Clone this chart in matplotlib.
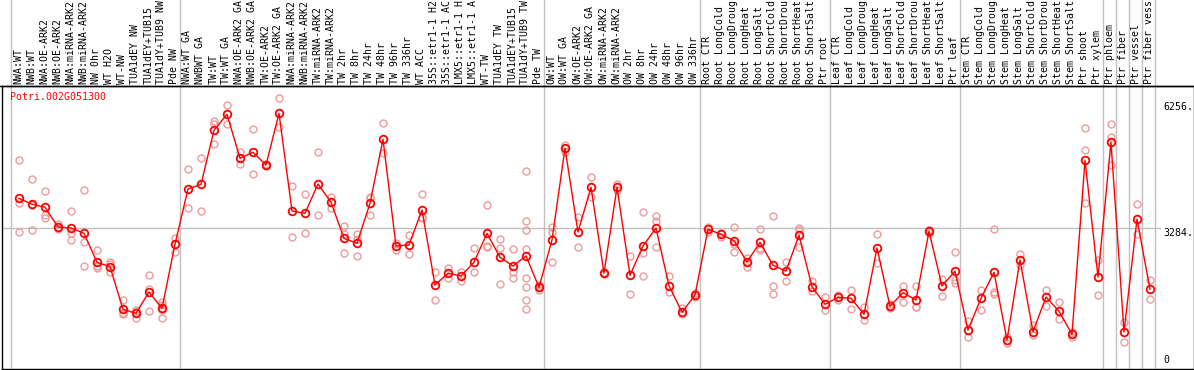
import matplotlib
matplotlib.use("Agg")
import matplotlib.pyplot as plt
from matplotlib.transforms import blended_transform_factory

# ---------------- data ----------------
gene_id = "Potri.002G051300"

sample_labels = [
    "NWA:WT", "NWB:WT", "NWA:OE-ARK2", "NWB:OE-ARK2", "NWA:miRNA-ARK2", "NWB:miRNA-ARK2",
    "NW 0hr", "WT H2O", "WT-NW", "TUA1dEY NW", "TUA1dEY+TUB15", "TUA1dY+TUB9 NW", "Pde NW",
    "NWA:WT GA", "NWBWT GA", "TW:WT", "TW:WT GA", "NWA:OE-ARK2 GA", "NWB:OE-ARK2 GA",
    "TW:OE-ARK2", "TW:OE-ARK2 GA", "NWA:miRNA-ARK2", "NWB:miRNA-ARK2", "TW:miRNA-ARK2",
    "TW:miRNA-ARK2", "TW 2hr", "TW 8hr", "TW 24hr", "TW 48hr", "TW 96hr", "TW 336hr",
    "WT ACC", "35S::etr1-1 H2", "35S::etr1-1 AC", "LMX5::etr1-1 H", "LMX5::etr1-1 A",
    "WT-TW", "TUA1dEY TW", "TUA1dEY+TUB15", "TUA1dY+TUB9 TW", "Pde TW",
    "OW:WT", "OW:WT GA", "OW:OE-ARK2", "OW:OE-ARK2 GA", "OW:miRNA-ARK2", "OW:miRNA-ARK2",
    "OW 2hr", "OW 8hr", "OW 24hr", "OW 48hr", "OW 96hr", "OW 336hr",
    "Root CTR", "Root LongCold", "Root LongDroug", "Root LongHeat", "Root LongSalt",
    "Root ShortCold", "Root ShortDrou", "Root ShortHeat", "Root ShortSalt", "Ptr root",
    "Leaf CTR", "Leaf LongCold", "Leaf LongDroug", "Leaf LongHeat", "Leaf LongSalt",
    "Leaf ShortCold", "Leaf ShortDrou", "Leaf ShortHeat", "Leaf ShortSalt", "Ptr leaf",
    "Stem CTR", "Stem LongCold", "Stem LongDroug", "Stem LongHeat", "Stem LongSalt",
    "Stem ShortCold", "Stem ShortDrou", "Stem ShortHeat", "Stem ShortSalt", "Ptr shoot",
    "Ptr xylem", "Ptr phloem", "Ptr fiber", "Ptr vessel", "Ptr fiber vess",
]

mean_values = [
    4012, 3865, 3792, 3309, 3284, 3154, 2444, 2336, 1292, 1194, 1716, 1316, 2885,
    4240, 4355, 5679, 6071, 4993, 5140, 4828, 6096, 3701, 3645, 4363, 3914, 3032,
    2909, 3890, 5458, 2843, 2868, 3726, 1887, 2174, 2108, 2444, 3154, 2566, 2353,
    2598, 1831,
    2990, 5238, 3186, 4282, 2174, 4282, 2125, 2843, 3284, 1870, 1218, 1642,
    3252, 3130, 2973, 2451, 2934, 2370, 2230, 3105, 1846, 1414,
    1586, 1561, 1169, 2794, 1365, 1699, 1520, 3203, 1863, 2223,
    784, 1561, 2199, 539, 2500, 743, 1593, 1243, 679, 4944,
    2083, 5385, 735, 3498, 1782,
]

replicate_values = [
    [4951, 3890, 3179], [4485, 3848, 3235], [4191, 3603, 3537], [3375, 3292, 3260],
    [3701, 3154, 2990], [4216, 2934, 2353], [2745, 2360, 2311], [2444, 2395, 2199],
    [1520, 1194, 1170], [1275, 1086, 1220], [2132, 1782, 1250], [1478, 1397, 1275, 1071],
    [3047, 2703],
    [4730, 3767], [4993, 3701], [5914, 5826, 5336], [6299, 5826], [5140, 4846],
    [5703, 4608], [4850, 4810], [6463, 5752], [4306, 3064], [4110, 3154], [5140, 3603],
    [4052, 3767], [3333, 3137, 2664], [3137, 3007, 2598], [4052, 4012, 3596],
    [5851, 5115], [2924, 2745], [3113, 2640], [4110, 3522, 3545], [2213, 1520],
    [2297, 2052], [2213, 1985], [2787, 2213], [3841, 2843, 2826], [3015, 2787, 1912],
    [2762, 2213, 2052], [4681, 3456, 3235, 2770, 2052, 1831, 1520, 1292],
    [1765, 1831, 1897],
    [3316, 3194, 2444], [5319, 5250, 5145], [3561, 2811], [4527, 4037], [2200, 2150],
    [4355, 4210], [2598, 1659], [3669, 2679, 2108], [3578, 3463, 2811], [2108, 1708],
    [1316, 1176], [1699, 1585],
    [3309, 3195], [3169, 3071], [3301, 2892, 2689], [2542, 2321], [3252, 2787, 2745],
    [3578, 1863, 1659], [2444, 1993], [3277, 3235, 2826], [1985, 1740], [1586, 1275],
    [1642, 1520], [1765, 1299], [1341, 1029], [3130, 2419], [1316, 1415], [1870, 1478],
    [1863, 1341, 1360], [3235, 3170], [2034, 1618], [2689, 2010, 1929],
    [1012, 620], [1765, 1275], [3252, 1723, 1667], [458, 620], [2640, 2377], [907, 662],
    [1765, 1373], [1471, 1047], [728, 605], [5728, 5189, 3890],
    [2500, 1642], [5826, 5522, 4828], [973, 483], [3865, 3130], [2002, 1537],
]

group_starts = [0, 13, 41, 53, 63, 73, 84, 85, 86, 87, 88]
axis_ticks = [6256, 3284, 0]

# ---------------- figure ----------------
W, H = 1194, 370
fig = plt.figure(figsize=(W / 100, H / 100), dpi=100)
fig.patch.set_facecolor("white")

ax_left_px, ax_right_px = 1.5, 1193.5
ax_top_px, ax_bot_px = 85.5, 368.5
ax = fig.add_axes([ax_left_px / W, (H - ax_bot_px) / H,
                   (ax_right_px - ax_left_px) / W, (ax_bot_px - ax_top_px) / H])

x0_px, dx_px = 19.0, 13.0
y0_px, ppu = 362.0, 134.0 / 3284.0
ax.set_xlim((ax_left_px - x0_px) / dx_px, (ax_right_px - x0_px) / dx_px)
ax.set_ylim((y0_px - ax_bot_px) / ppu, (y0_px - ax_top_px) / ppu)
ax.set_xticks([])
ax.set_yticks([])
for s in ax.spines.values():
    s.set_color("black")
    s.set_linewidth(1.0)

mono = "DejaVu Sans Mono"
fs = 7.1
grid_col = "#c0c0c0"

# group separators (extend into label area)
ext = ax_bot_px / (ax_bot_px - ax_top_px)
for g in group_starts:
    ax.axvline(g - 0.62, ymin=0, ymax=ext, color=grid_col, lw=1.0, clip_on=False, zorder=0.5)

# horizontal reference line
ax.axhline(axis_ticks[1], xmin=0, xmax=(1160 - ax_left_px) / (ax_right_px - ax_left_px),
           color=grid_col, lw=1.0, zorder=0.5)

# top border of plot region spanning full width
fig.add_artist(plt.Line2D([0, 1], [(H - 85.5) / H] * 2, color="black", lw=1.0,
                          transform=fig.transFigure))

n = len(mean_values)
xs = list(range(n))

# replicates
for i, reps in enumerate(replicate_values):
    ax.plot([i] * len(reps), reps, linestyle="none", marker="o", markersize=5.0,
            markerfacecolor="none", markeredgecolor="#ee9a9a", markeredgewidth=1.0, zorder=2)

# mean line + markers
ax.plot(xs, mean_values, color="#ff0000", lw=1.0, zorder=3)
ax.plot(xs, mean_values, linestyle="none", marker="o", markersize=5.5,
        markerfacecolor="none", markeredgecolor="#ff0000", markeredgewidth=1.3, zorder=4)

# sample labels (rotated, above plot)
tr = blended_transform_factory(ax.transData, fig.transFigure)
for i, lab in enumerate(sample_labels):
    ax.text(i - 0.05, (H - 84.0) / H, lab, rotation=90, ha="center", va="bottom",
            fontsize=fs, family=mono, color="black", transform=tr, clip_on=False)

# gene id
ax.text((10 - ax_left_px) / (ax_right_px - ax_left_px), (ax_bot_px - 97) / (ax_bot_px - ax_top_px),
        gene_id, color="#ff0000", fontsize=fs, family=mono, ha="left", va="center",
        transform=ax.transAxes)

# y axis value labels at right
tx = blended_transform_factory(fig.transFigure, ax.transData)
lx = 1163 / W
ax.text(lx, axis_ticks[0], f"{axis_ticks[0]}.", fontsize=fs, family=mono, ha="left",
        va="center", transform=tx)
ax.text(lx, axis_ticks[1], f"{axis_ticks[1]}.", fontsize=fs, family=mono, ha="left",
        va="top", transform=tx)
ax.text(lx, axis_ticks[2] - 70, f"{axis_ticks[2]}", fontsize=fs, family=mono, ha="left",
        va="bottom", transform=tx)

fig.savefig("out.png", dpi=100, facecolor="white")
